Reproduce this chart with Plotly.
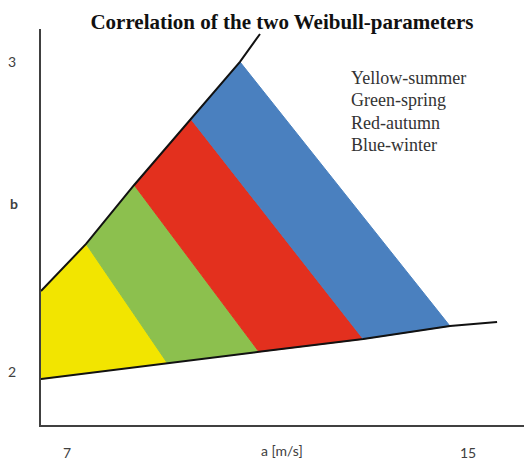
import plotly.graph_objects as go

# ---- data ----
upper_line_a = [6.48, 7.38, 8.34, 9.47, 10.45, 10.85]
upper_line_b = [2.261, 2.413, 2.603, 2.816, 3.000, 3.090]
lower_line_a = [6.48, 9.00, 10.83, 12.91, 14.64, 15.58]
lower_line_b = [1.977, 2.029, 2.065, 2.106, 2.148, 2.161]

band_colors = ["#F2E500", "#8CC04E", "#E3301E", "#4A80BF"]
legend_lines = ["Yellow-summer", "Green-spring", "Red-autumn", "Blue-winter"]

x_tickvals = [7, 15]
x_ticktext = ["7", "15"]
y_tickvals = [2, 3]
y_ticktext = ["2", "3"]

title_text = "Correlation of the two Weibull-parameters"
x_title = "a [m/s]"
y_title = "b"

fig = go.Figure()

# coloured season bands
for i, col in enumerate(band_colors):
    xs = [upper_line_a[i], upper_line_a[i + 1], lower_line_a[i + 1], lower_line_a[i], upper_line_a[i]]
    ys = [upper_line_b[i], upper_line_b[i + 1], lower_line_b[i + 1], lower_line_b[i], upper_line_b[i]]
    fig.add_trace(go.Scatter(x=xs, y=ys, mode="lines", fill="toself", fillcolor=col,
                             line=dict(color=col, width=1), hoverinfo="skip", showlegend=False))

# boundary lines
fig.add_trace(go.Scatter(x=upper_line_a, y=upper_line_b, mode="lines",
                         line=dict(color="#111111", width=2), showlegend=False))
fig.add_trace(go.Scatter(x=lower_line_a, y=lower_line_b, mode="lines",
                         line=dict(color="#111111", width=2), showlegend=False))

tick_font = dict(family="Lato, sans-serif", size=14, color="#404040")

fig.update_layout(
    width=524, height=460,
    margin=dict(l=41, r=0, t=29, b=35),
    paper_bgcolor="white", plot_bgcolor="white",
    showlegend=False,
    title=dict(text=title_text, x=0.538, xanchor="center", y=1 - 22 / 460, yanchor="middle",
               font=dict(family="Liberation Serif, serif", size=21, color="#111111", weight="bold")),
    xaxis=dict(range=[6.481, 16.117], showgrid=False, zeroline=False, showline=True,
               linecolor="#404040", linewidth=2, ticks="", tickvals=x_tickvals, ticktext=x_ticktext,
               tickfont=tick_font, ticklabelstandoff=14, automargin=False),
    yaxis=dict(range=[1.829, 3.106], showgrid=False, zeroline=False, showline=True,
               linecolor="#404040", linewidth=2, ticks="", tickvals=y_tickvals, ticktext=y_ticktext,
               tickfont=tick_font, ticklabelstandoff=20, automargin=False),
)

# x axis label
fig.add_annotation(text=x_title, xref="paper", yref="paper", x=(282 - 41) / 483, y=(425 - 450) / 396,
                   xanchor="center", yanchor="middle", showarrow=False, font=tick_font, borderpad=0)

# y axis label (upright)
fig.add_annotation(text="<b>" + y_title + "</b>", xref="paper", yref="y", x=-27 / 483, y=2.542,
                   xanchor="center", yanchor="middle", showarrow=False, font=tick_font)

# season key
legend_y_px = [78, 100, 123, 145]
for txt, py in zip(legend_lines, legend_y_px):
    fig.add_annotation(text=txt, xref="paper", yref="paper", x=(349 - 41) / 483, y=(425 - py) / 396,
                       xanchor="left", yanchor="middle", showarrow=False,
                       font=dict(family="Liberation Serif, serif", size=18, color="#333333"))

fig.write_html("out.html", config={"displayModeBar": False},
               post_script="document.body.style.margin='0';")
